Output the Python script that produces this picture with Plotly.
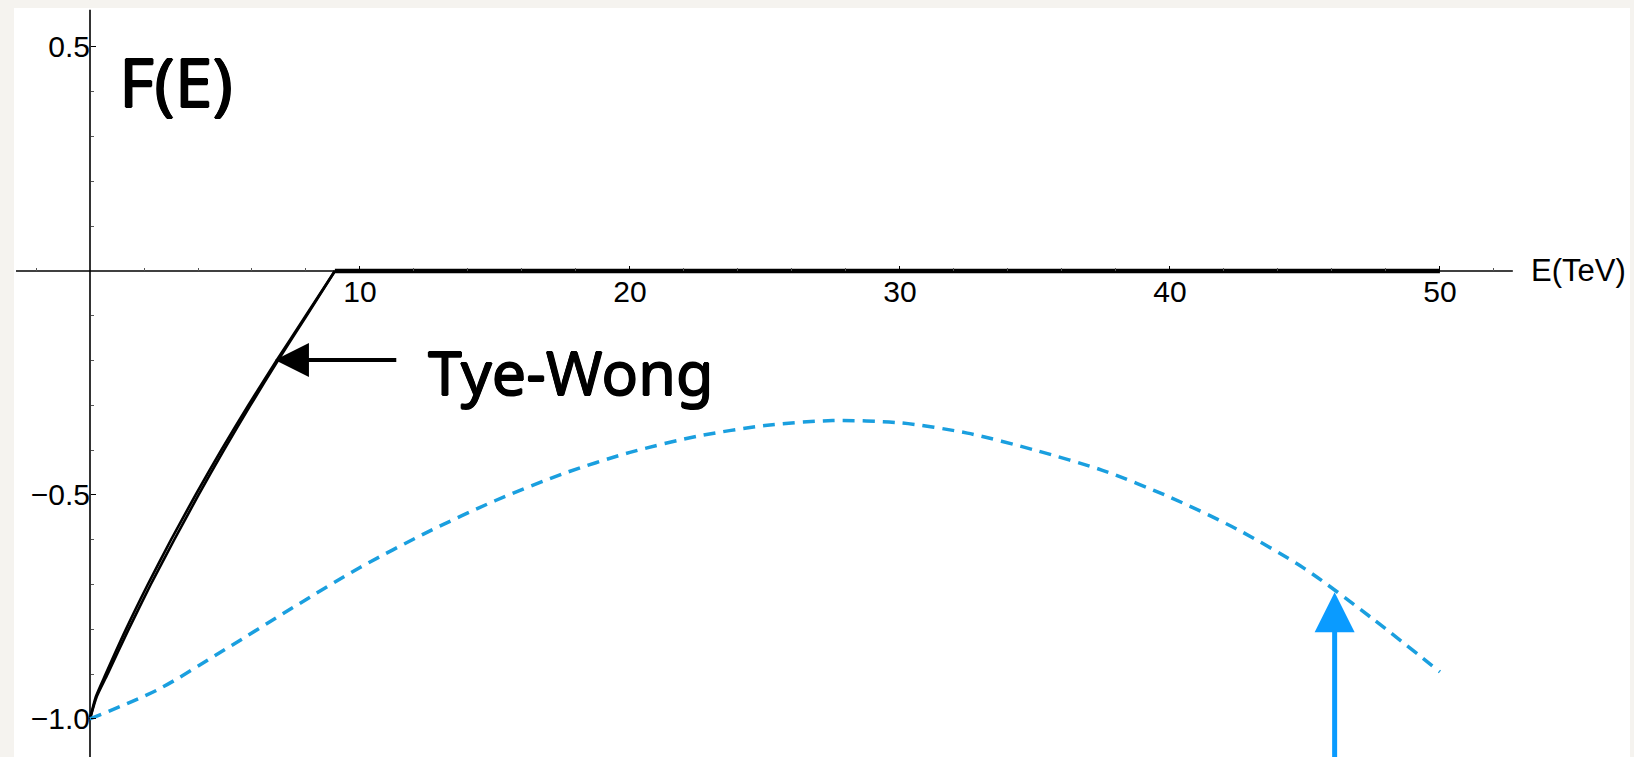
import plotly.graph_objects as go

# ---------------- data ----------------
# Tye-Wong curve (drawn as two almost coincident black lines)
tw_x_a = [0.0, 0.22, 0.58, 1.33, 2.14, 3.00, 3.91, 4.86, 5.86, 6.91, 7.99, 9.07]
tw_y_a = [-1.0, -0.95, -0.9, -0.8, -0.7, -0.6, -0.5, -0.4, -0.3, -0.2, -0.1, 0.0]
tw_x_b = [0.0, 0.25, 0.65, 1.43, 2.25, 3.12, 4.02, 4.96, 5.94, 6.96, 8.02, 9.07]
tw_y_b = [-1.0, -0.95, -0.9, -0.8, -0.7, -0.6, -0.5, -0.4, -0.3, -0.2, -0.1, 0.0]

# flat part of the Tye-Wong result, lying on F = 0
flat_x = [9.07, 50.0]
flat_y = [0.0, 0.0]

# blue dashed curve
blue_x = [0.0, 2.5, 5.0, 7.5, 10.0, 12.5, 15.0, 17.5, 20.0, 22.5, 25.0,
          27.5, 30.0, 32.5, 35.0, 37.5, 40.0, 42.5, 45.0, 47.5, 50.0]
blue_y = [-1.0, -0.935, -0.845, -0.752, -0.662, -0.583, -0.513, -0.453,
          -0.405, -0.369, -0.345, -0.334, -0.339, -0.362, -0.400, -0.445,
          -0.505, -0.577, -0.665, -0.776, -0.895]

# ticks
x_major = [10, 20, 30, 40, 50]
x_minor = [-2, 2, 4, 6, 8, 12, 14, 16, 18, 22, 24, 26, 28, 32, 34, 36, 38,
           42, 44, 46, 48, 52]
y_major = [-1.0, -0.5, 0.5]
y_major_text = ["\u22121.0", "\u22120.5", "0.5"]
y_minor = [-0.9, -0.8, -0.7, -0.6, -0.4, -0.3, -0.2, -0.1, 0.1, 0.2, 0.3, 0.4]

# annotation anchors
tw_arrow_tip = (6.85, -0.199)
tw_arrow_tail_x = 11.4
blue_arrow_tip = (46.1, -0.717)

# ---------------- figure ----------------
X0, X1 = -2.815, 57.04
Y0, Y1 = -1.085, 0.587
AXIS_FONT = dict(family="Liberation Sans, Arial, sans-serif", size=30, color="black")
LABEL_FONT = "Comic Sans MS, Noto Sans, sans-serif"
THICKEN = "0.7px 0px 0px black, -0.7px 0px 0px black, 0px 0.7px 0px black, 0px -0.7px 0px black"

fig = go.Figure()

for xs, ys in ((tw_x_a, tw_y_a), (tw_x_b, tw_y_b)):
    fig.add_trace(go.Scatter(x=xs, y=ys, mode="lines",
                             line=dict(color="black", width=2.6, shape="spline",
                                       smoothing=0.6),
                             hoverinfo="skip", showlegend=False))

fig.add_trace(go.Scatter(x=flat_x, y=flat_y, mode="lines",
                         line=dict(color="black", width=4.5),
                         hoverinfo="skip", showlegend=False))

fig.add_trace(go.Scatter(x=blue_x, y=blue_y, mode="lines",
                         line=dict(color="#1a9fdf", width=3.5, dash="12px,8px",
                                   shape="spline", smoothing=0.8),
                         hoverinfo="skip", showlegend=False))

# axis lines crossing at the origin
fig.add_shape(type="line", xref="x", yref="y", x0=-2.74, x1=52.7, y0=0, y1=0,
              line=dict(color="black", width=1.6), layer="below")
fig.add_shape(type="line", xref="x", yref="y", x0=0, x1=0, y0=Y0, y1=0.583,
              line=dict(color="black", width=1.6), layer="below")

fig.update_layout(
    width=1634, height=757,
    margin=dict(l=14, r=4, t=8, b=0, autoexpand=False),
    paper_bgcolor="#f5f3ef",
    plot_bgcolor="white",
    showlegend=False,
    xaxis=dict(range=[X0, X1], anchor="free", position=(0 - Y0) / (Y1 - Y0),
               automargin=False,
               showgrid=False, zeroline=False, showline=False,
               ticks="inside", ticklen=5, tickwidth=1, tickcolor="black",
               tickvals=x_major, ticktext=[str(v) for v in x_major],
               tickfont=AXIS_FONT,
               minor=dict(tickvals=x_minor, ticks="inside", ticklen=3,
                          tickwidth=1, tickcolor="#555")),
    yaxis=dict(range=[Y0, Y1], anchor="free", position=(0 - X0) / (X1 - X0),
               side="left", automargin=False,
               showgrid=False, zeroline=False, showline=False,
               ticks="inside", ticklen=5, tickwidth=1, tickcolor="black",
               tickvals=y_major, ticktext=y_major_text,
               tickfont=AXIS_FONT,
               minor=dict(tickvals=y_minor, ticks="inside", ticklen=3,
                          tickwidth=1, tickcolor="#555")),
)

# text labels
fig.add_annotation(x=53.3, y=0, xref="x", yref="y", text="E(TeV)",
                   showarrow=False, xanchor="left", yanchor="middle",
                   font=dict(family="Liberation Sans, Arial, sans-serif",
                             size=31, color="black"))
fig.add_annotation(x=1.0, y=0.425, xref="x", yref="y", text="F(E)",
                   showarrow=False, xanchor="left", yanchor="middle",
                   font=dict(family=LABEL_FONT, size=68, color="black",
                             shadow=THICKEN))
fig.add_annotation(x=12.45, y=-0.225, xref="x", yref="y", text="Tye-Wong",
                   showarrow=False, xanchor="left", yanchor="middle",
                   font=dict(family=LABEL_FONT, size=61, color="black",
                             shadow=THICKEN))

# arrows
fig.add_annotation(x=tw_arrow_tip[0], y=tw_arrow_tip[1], xref="x", yref="y",
                   ax=tw_arrow_tail_x, ay=tw_arrow_tip[1], axref="x", ayref="y",
                   text="", showarrow=True, arrowhead=2, arrowsize=1.7,
                   arrowwidth=4, arrowcolor="black", standoff=0)
fig.add_annotation(x=blue_arrow_tip[0], y=blue_arrow_tip[1], xref="x", yref="y",
                   ax=blue_arrow_tip[0], ay=-1.2, axref="x", ayref="y",
                   text="", showarrow=True, arrowhead=2, arrowsize=1.6,
                   arrowwidth=5, arrowcolor="#0a9bff", standoff=0)

fig.write_html("out.html",
               config={"displayModeBar": False},
               post_script="document.body.style.margin='0';"
                           "document.body.style.background='#f5f3ef';")
